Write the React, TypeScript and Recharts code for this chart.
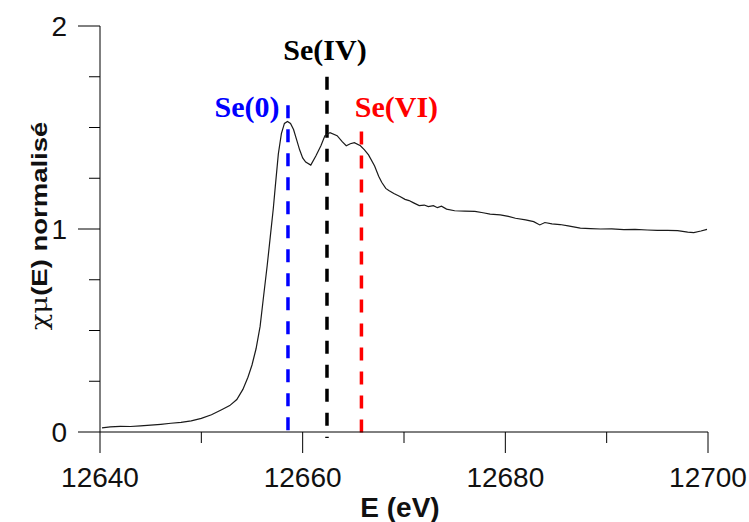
import React from 'react';
import { LineChart, Line, XAxis, YAxis, ReferenceLine } from 'recharts';

// normalised XANES spectrum, Se K-edge
const energy = [
  12640.2, 12641, 12642, 12643, 12644, 12645, 12646, 12647, 12648, 12649,
  12650, 12651, 12652, 12652.8, 12653.5, 12654.1, 12654.6, 12655, 12655.4, 12655.8,
  12656.1, 12656.5, 12656.8, 12657.1, 12657.3, 12657.6, 12657.9, 12658.2, 12658.5, 12658.8,
  12659.1, 12659.4, 12659.7, 12660, 12660.3, 12660.8, 12661.3, 12661.8, 12662.2, 12662.7,
  12663.4, 12663.9, 12664.3, 12664.7, 12665.1, 12665.7, 12666.1, 12666.5, 12667.1, 12667.5,
  12667.8, 12668.2, 12668.5, 12669, 12669.6, 12670.1, 12670.5, 12670.9, 12671.5, 12672,
  12672.4, 12672.9, 12673.3, 12673.7, 12674.2, 12675, 12676, 12677, 12677.8, 12678.5,
  12679.5, 12680.3, 12681, 12682, 12682.8, 12683.4, 12683.9, 12684.6, 12685.4, 12686.2,
  12687.4, 12688.4, 12689.4, 12690.5, 12691.7, 12692.8, 12694, 12695, 12696, 12697,
  12698, 12698.6, 12699.3, 12699.9,
];
const mu = [
  0.02, 0.025, 0.028, 0.027, 0.03, 0.034, 0.038, 0.043, 0.047, 0.055,
  0.067, 0.085, 0.11, 0.13, 0.16, 0.21, 0.27, 0.33, 0.41, 0.52,
  0.65, 0.82, 0.96, 1.1, 1.21, 1.37, 1.47, 1.52, 1.53, 1.52,
  1.49, 1.44, 1.39, 1.35, 1.33, 1.315, 1.36, 1.41, 1.46, 1.475,
  1.46, 1.43, 1.41, 1.42, 1.425, 1.41, 1.39, 1.365, 1.31, 1.26,
  1.23, 1.2, 1.19, 1.175, 1.16, 1.146, 1.14, 1.13, 1.115, 1.118,
  1.11, 1.115, 1.105, 1.112, 1.098, 1.09, 1.088, 1.087, 1.08, 1.073,
  1.07, 1.062, 1.053, 1.045, 1.036, 1.02, 1.032, 1.025, 1.022, 1.015,
  1.004, 1.002, 1.0, 1.001, 0.997, 0.998, 0.995, 0.993, 0.993, 0.992,
  0.985, 0.982, 0.99, 0.998,
];

const xTicks = [12640, 12650, 12660, 12670, 12680, 12690, 12700];
const yTicks = [0, 0.25, 0.5, 0.75, 1, 1.25, 1.5, 1.75, 2];

// oxidation state markers
const markerNames = ['Se(0)', 'Se(IV)', 'Se(VI)'];
const markerEnergy = [12658.55, 12662.4, 12665.8];
const markerTop = [1.61, 1.75, 1.48];
const markerColors = ['#0000ff', '#000000', '#ff0000'];
const labelDx = [-41, -2, 35];
const labelDy = [12, -17, -15];

const data = energy.map((e, i) => ({ e, mu: mu[i] }));

const sans = '"Liberation Sans", Arial, sans-serif';

const XTick = (props: any) => {
  const { x, y, payload } = props;
  const major = payload.value % 20 === 0;
  return (
    <g>
      <line x1={x} x2={x} y1={y} y2={y + (major ? 21 : 11)} stroke="#000" />
      {major && (
        <text x={x} y={y + 55} textAnchor="middle" fontSize={28} fontFamily={sans} fill="#111">
          {payload.value}
        </text>
      )}
    </g>
  );
};

const YTick = (props: any) => {
  const { x, y, payload } = props;
  const major = Number.isInteger(payload.value);
  return (
    <g>
      <line x1={x - (major ? 22 : 11)} x2={x} y1={y} y2={y} stroke="#000" />
      {major && (
        <text x={x - 33} y={y + 10} textAnchor="end" fontSize={28} fontFamily={sans} fill="#111">
          {payload.value}
        </text>
      )}
    </g>
  );
};

export default function App() {
  return (
    <div style={{ position: 'absolute', left: 0, top: 0 }}>
      <LineChart width={749} height={522} data={data} margin={{ top: 26, right: 41, bottom: 0, left: 0 }}>
        <XAxis
          dataKey="e"
          type="number"
          domain={[12640, 12700]}
          ticks={xTicks}
          interval={0}
          height={90}
          tickSize={0}
          tickMargin={0}
          tickLine={false}
          tick={<XTick />}
          axisLine={{ stroke: '#000' }}
          label={(p: any) => (
            <text x={400} y={517} textAnchor="middle" fontSize={28} fontWeight="bold" fontFamily={sans} fill="#111">
              E (eV)
            </text>
          )}
        />
        <YAxis
          type="number"
          domain={[0, 2]}
          ticks={yTicks}
          interval={0}
          width={100}
          tickSize={0}
          tickMargin={0}
          tickLine={false}
          tick={<YTick />}
          axisLine={{ stroke: '#000' }}
          label={(p: any) => (
            <text transform="translate(47,226) rotate(-90) scale(1.25,1)" textAnchor="middle" fontSize={22} fill="#111">
              <tspan fontFamily='"DejaVu Serif", serif'>χμ</tspan>
              <tspan fontFamily={sans} fontWeight="bold">(E) normalisé</tspan>
            </text>
          )}
        />
        {markerNames.map((name, i) => (
          <ReferenceLine
            key={name}
            ifOverflow="visible"
            segment={[
              { x: markerEnergy[i], y: markerTop[i] },
              { x: markerEnergy[i], y: -0.03 },
            ]}
            stroke={markerColors[i]}
            strokeWidth={3.5}
            strokeDasharray="13 11"
            label={(p: any) => {
              const vb = p.viewBox || {};
              return (
                <text
                  x={vb.x + labelDx[i]}
                  y={vb.y + labelDy[i]}
                  textAnchor="middle"
                  fontSize={30}
                  fontWeight="bold"
                  fontFamily='"Liberation Serif", "Times New Roman", serif'
                  fill={markerColors[i]}
                >
                  {name}
                </text>
              );
            }}
          />
        ))}
        <Line
          type="linear"
          dataKey="mu"
          stroke="#1a1a1a"
          strokeWidth={1.2}
          dot={false}
          isAnimationActive={false}
        />
      </LineChart>
    </div>
  );
}
